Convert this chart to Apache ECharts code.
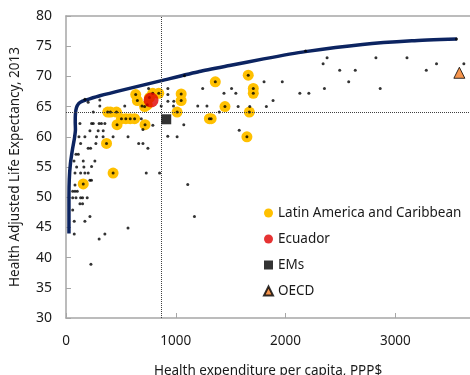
<!DOCTYPE html>
<html>
<head>
<meta charset="utf-8">
<script src="https://cdn.jsdelivr.net/npm/echarts@6/dist/echarts.min.js"></script>
<style>
  html, body { margin: 0; padding: 0; background: #fff; }
  #chart { width: 470px; height: 375px; }
</style>
</head>
<body>
<div id="chart"></div>
<script>
// efficiency frontier (spending, HALE)
const frontier = [
  [27, 44], [27, 50], [30, 53], [40, 55.5], [58, 57.8], [78, 59.9], [86, 61.2],
  [84, 62.5], [86, 63.8], [95, 64.8], [115, 65.5], [150, 65.9], [200, 66.2],
  [308, 66.8], [550, 67.9], [870, 69.3], [1215, 70.8], [1490, 71.8],
  [1800, 72.9], [2180, 74.1], [2700, 75.3], [3150, 75.9], [3560, 76.2]
]

// Latin America and Caribbean
const lacPoints = [
  [157, 52.2], [429, 54.0], [369, 58.9], [465, 62.0], [720, 62.0],
  [380, 64.1], [405, 64.1], [460, 64.1],
  [505, 63.0], [545, 63.0], [585, 63.0], [625, 63.0],
  [716, 65.0], [740, 65.3], [635, 67.0], [650, 66.0],
  [790, 67.2], [845, 67.2], [760, 66.5],
  [1012, 64.1], [1049, 67.1], [1049, 66.0], [1306, 63.0], [1322, 63.0],
  [1360, 69.1], [1448, 65.0], [1660, 70.2], [1706, 68.0], [1706, 67.2],
  [1670, 64.1], [1648, 60.0]
]

// all other countries
const otherPoints = [
  [82, 52.0], [218, 52.8], [232, 52.8], [82, 51.0], [103, 51.0], [61, 51.0],
  [61, 49.9], [91, 49.9], [133, 49.9], [151, 49.9], [193, 49.9],
  [127, 48.9], [151, 48.9], [61, 47.9], [218, 46.8], [75, 46.0], [172, 46.0],
  [75, 43.9], [354, 43.9], [302, 43.1], [565, 44.9], [227, 38.9],
  [1109, 52.1], [1170, 46.8], [731, 54.0], [852, 54.0],
  [82, 54.0], [133, 54.0], [172, 54.0], [202, 54.0],
  [97, 55.0], [163, 55.0], [233, 55.1], [73, 56.0], [157, 56.0], [263, 56.0],
  [91, 57.1], [112, 57.1], [202, 58.1], [224, 58.1],
  [133, 58.9], [272, 58.9], [662, 58.9], [701, 58.9], [746, 58.1],
  [118, 60.0], [172, 60.0], [278, 60.0], [338, 60.0], [429, 60.0], [565, 60.0],
  [927, 60.1], [1012, 60.0],
  [218, 61.0], [293, 61.0], [339, 61.0], [701, 61.2], [1578, 61.1],
  [127, 62.2], [233, 62.2], [248, 62.2], [302, 62.2], [323, 62.2], [354, 62.2],
  [791, 61.9], [1073, 62.0], [686, 63.0], [248, 64.1], [1396, 64.1],
  [308, 65.1], [202, 65.7], [535, 65.1], [692, 65.1], [867, 65.1], [979, 65.1],
  [1200, 65.1], [1284, 65.1], [1568, 65.0], [1674, 65.0], [1825, 65.0],
  [308, 66.1], [172, 66.2], [928, 65.9], [982, 65.9], [1886, 66.0],
  [928, 67.0], [752, 68.0], [928, 68.0], [1245, 68.0], [1439, 67.2], [1547, 67.2],
  [1508, 68.0], [2130, 67.2], [2212, 67.2], [2354, 68.0], [2862, 68.0],
  [1804, 69.1], [1970, 69.1], [2575, 69.1],
  [2493, 71.0], [2635, 71.0], [3282, 71.0],
  [2342, 72.1], [3375, 72.1], [3624, 72.1],
  [2378, 73.1], [2823, 73.1], [3106, 73.1],
  [1079, 70.1], [2182, 74.2], [3557, 76.2]
]

const ecuador = [[775, 66.1]]
const ems = [[913, 62.9]]
const oecd = [[3583, 70.6]]

// dotted reference lines
const refX = 870
const refY = 64.1

const xTicks = { min: 0, max: 3680, interval: 1000 }
const yTicks = { min: 30, max: 80, interval: 5 }

const fontFamily = 'Noto Sans, sans-serif'
const axisGray = '#a6a6a6'

const chart = echarts.init(document.getElementById('chart'))

chart.setOption({
  animation: false,
  textStyle: { fontFamily: fontFamily },
  grid: { left: 66, right: 0, top: 16, bottom: 57, outerBoundsMode: 'none' },
  legend: {
    orient: 'vertical',
    left: 258,
    top: 201,
    itemWidth: 9,
    itemHeight: 9,
    itemGap: 12,
    textStyle: { fontSize: 13.5, color: '#1a1a1a' },
    data: ['Latin America and Caribbean', 'Ecuador', 'EMs', 'OECD']
  },
  xAxis: [
    {
      type: 'value',
      min: xTicks.min,
      max: xTicks.max,
      interval: xTicks.interval,
      name: 'Health expenditure per capita, PPP$',
      nameLocation: 'middle',
      nameGap: 46,
      nameTextStyle: { fontSize: 13.5, color: '#1a1a1a' },
      axisLine: { lineStyle: { color: axisGray, width: 1.5 } },
      axisTick: { inside: true, length: 5, lineStyle: { color: axisGray } },
      axisLabel: {
        fontSize: 13.5, color: '#1a1a1a', margin: 16, showMaxLabel: false,
        formatter: v => String(v)
      },
      splitLine: { show: false }
    },
    {
      type: 'value',
      position: 'top',
      min: xTicks.min,
      max: xTicks.max,
      axisLine: { show: true, lineStyle: { color: axisGray, width: 1.5 } },
      axisTick: { show: false },
      axisLabel: { show: false },
      splitLine: { show: false }
    }
  ],
  yAxis: {
    type: 'value',
    min: yTicks.min,
    max: yTicks.max,
    interval: yTicks.interval,
    name: 'Health Adjusted Life Expectancy, 2013',
    nameLocation: 'middle',
    nameGap: 44,
    nameTextStyle: { fontSize: 13.5, color: '#1a1a1a' },
    axisLine: { show: true, lineStyle: { color: axisGray, width: 1.5 } },
    axisTick: { show: true, inside: true, length: 5, lineStyle: { color: axisGray } },
    axisLabel: { fontSize: 14, color: '#1a1a1a', margin: 14 },
    splitLine: { show: false }
  },
  series: [
    {
      name: 'frontier',
      type: 'line',
      data: frontier,
      smooth: 0.2,
      showSymbol: false,
      lineStyle: { color: '#0c2461', width: 3.5 },
      z: 2,
      markLine: {
        silent: true,
        symbol: 'none',
        label: { show: false },
        lineStyle: { color: '#404040', type: 'dotted', width: 1 },
        data: [{ xAxis: refX }, { yAxis: refY }]
      }
    },
    {
      name: 'Latin America and Caribbean',
      type: 'scatter',
      data: lacPoints,
      symbol: 'circle',
      symbolSize: 11,
      itemStyle: { color: '#ffc000', opacity: 1 },
      z: 3
    },
    {
      name: 'countries',
      type: 'scatter',
      data: otherPoints.concat(lacPoints),
      symbol: 'circle',
      symbolSize: 3,
      itemStyle: { color: '#000' },
      z: 4
    },
    {
      name: 'Ecuador',
      type: 'scatter',
      data: ecuador,
      symbol: 'circle',
      symbolSize: 15,
      itemStyle: { color: '#e00000' },
      z: 5
    },
    {
      name: 'EMs',
      type: 'scatter',
      data: ems,
      symbol: 'rect',
      symbolSize: 10,
      itemStyle: { color: '#000' },
      z: 5
    },
    {
      name: 'OECD',
      type: 'scatter',
      data: oecd,
      symbol: 'triangle',
      symbolSize: 11,
      itemStyle: { color: '#f47b20', borderColor: '#000', borderWidth: 1 },
      z: 5
    }
  ]
})
</script>
</body>
</html>
